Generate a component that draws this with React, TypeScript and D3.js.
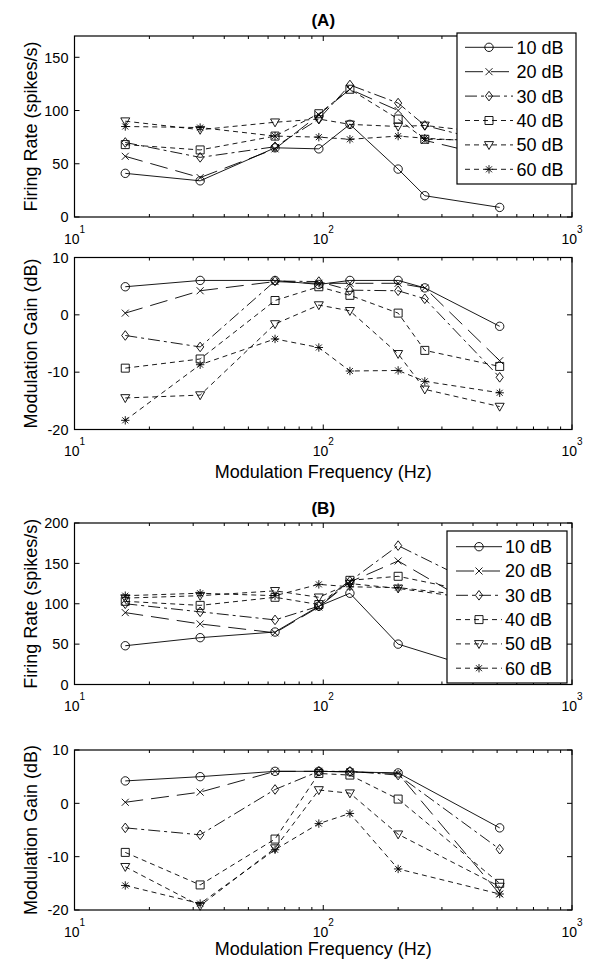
import React from "react";
import * as d3 from "d3";

// modulation frequencies (Hz)
const freqA = [16, 32, 64, 96, 128, 200, 256, 512];
const freqB = [16, 32, 64, 96, 128, 200, 512];
const levels = ["10 dB", "20 dB", "30 dB", "40 dB", "50 dB", "60 dB"];

// (A) firing rate, spikes/s, one row per level
const rateA = [
  [41, 34, 65, 64, 87, 45, 20, 9],
  [57, 37, 64, 96, 120, 100, 72, 55],
  [70, 56, 66, 92, 124, 107, 86, 68],
  [68, 63, 76, 97, 120, 92, 73, 72],
  [90, 82, 89, 92, 87, 85, 86, 78],
  [85, 84, 76, 75, 73, 76, 74, 70],
];
// (A) modulation gain, dB
const gainA = [
  [4.9, 6.0, 6.0, 5.3, 6.0, 6.0, 4.7, -2.0],
  [0.3, 4.2, 5.8, 5.5, 5.5, 5.5, 4.7, -8.0],
  [-3.6, -5.6, 5.9, 5.8, 4.3, 4.2, 2.8, -10.9],
  [-9.3, -7.7, 2.5, 4.9, 3.4, 0.3, -6.2, -9.0],
  [-14.5, -14.0, -1.6, 1.7, 0.7, -6.8, -13.0, -16.0],
  [-18.4, -8.7, -4.2, -5.7, -9.8, -9.7, -11.6, -13.6],
];
// (B) firing rate
const rateB = [
  [48, 58, 65, 97, 113, 50, 11],
  [89, 75, 64, 96, 127, 153, 80],
  [100, 90, 80, 97, 128, 172, 110],
  [103, 98, 108, 99, 129, 134, 108],
  [107, 110, 116, 108, 125, 119, 102],
  [110, 113, 110, 124, 121, 120, 106],
];
// (B) modulation gain
const gainB = [
  [4.2, 5.0, 6.0, 6.0, 5.9, 5.7, -4.6],
  [0.2, 2.1, 6.0, 6.0, 5.9, 5.6, -17.0],
  [-4.6, -5.9, 2.6, 6.0, 6.0, 5.3, -8.6],
  [-9.2, -15.3, -6.7, 5.6, 5.3, 0.8, -15.0],
  [-11.9, -19.2, -8.4, 2.5, 1.9, -5.8, -15.6],
  [-15.4, -18.8, -8.7, -3.8, -1.9, -12.3, -17.0],
];

const rateTicksA = [0, 50, 100, 150];
const rateTicksB = [0, 50, 100, 150, 200];
const gainTicks = [-20, -10, 0, 10];

// styles per level
const markers = ["circle", "x", "diamond", "square", "triangle", "star"];
const dashes = [undefined, "18,8", "12,4,3,4", "5,4", "5,4", "5,4"];

const font = "'Liberation Sans', Arial, Helvetica, sans-serif";
const plotLeft = 74.5;
const plotRight = 572;

const markerPath = (kind: string) => {
  switch (kind) {
    case "circle":
      return "M4.2,0A4.2,4.2 0 1,1 -4.2,0A4.2,4.2 0 1,1 4.2,0Z";
    case "x":
      return "M-3.5,-3.5L3.5,3.5M-3.5,3.5L3.5,-3.5";
    case "diamond":
      return "M0,-4.8L3.6,0L0,4.8L-3.6,0Z";
    case "square":
      return "M-4,-4H4V4H-4Z";
    case "triangle":
      return "M-4.5,-3.3H4.5L0,4.6Z";
    default:
      return "M0,-4.2V4.2M-4.2,0H4.2M-3,-3L3,3M-3,3L3,-3";
  }
};

const Marker = ({ kind, cx, cy }: { kind: string; cx: number; cy: number }) => (
  <path d={markerPath(kind)} transform={`translate(${cx},${cy})`} fill="none" stroke="#000" strokeWidth={0.9} />
);

type LegendProps = { x: number; y: number; w: number; h: number; row0: number; step: number; l0: number; l1: number; tx: number };

const Legend = ({ x, y, w, h, row0, step, l0, l1, tx }: LegendProps) => (
  <g>
    <rect x={x} y={y} width={w} height={h} fill="#fff" stroke="#000" strokeWidth={1.2} />
    {levels.map((lab, i) => {
      const yy = row0 + i * step;
      return (
        <g key={lab}>
          <line x1={l0} x2={l1} y1={yy} y2={yy} stroke="#000" strokeWidth={0.9} strokeDasharray={dashes[i]} />
          <Marker kind={markers[i]} cx={(l0 + l1) / 2} cy={yy} />
          <text x={tx} y={yy} dy="0.36em" fontSize={18} fontFamily={font}>{lab}</text>
        </g>
      );
    })}
  </g>
);

type PanelProps = {
  top: number;
  bottom: number;
  freqs: number[];
  series: number[][];
  yDomain: [number, number];
  yTicks: number[];
  yLabel: string;
  xLabelY?: number;
  title?: string;
  titleY?: number;
  legend?: LegendProps;
};

const Panel = ({ top, bottom, freqs, series, yDomain, yTicks, yLabel, xLabelY, title, titleY, legend }: PanelProps) => {
  const x = d3.scaleLog().domain([10, 1000]).range([plotLeft, plotRight]);
  const y = d3.scaleLinear().domain(yDomain).range([bottom, top]);
  const line = d3
    .line<number>()
    .x((_, i) => x(freqs[i]))
    .y((d) => y(d));
  const xTicks = x.ticks();
  const isMajor = (t: number) => Math.abs(Math.log10(t) - Math.round(Math.log10(t))) < 1e-9;

  return (
    <g>
      {title && (
        <text x={(plotLeft + plotRight) / 2} y={titleY} textAnchor="middle" fontSize={17} fontWeight="bold" fontFamily={font}>
          {title}
        </text>
      )}
      {series.map((vals, i) => (
        <g key={i}>
          <path d={line(vals) || ""} fill="none" stroke="#000" strokeWidth={0.9} strokeDasharray={dashes[i]} />
          {vals.map((v, j) => (
            <Marker key={j} kind={markers[i]} cx={x(freqs[j])} cy={y(v)} />
          ))}
        </g>
      ))}
      <rect x={plotLeft} y={top} width={plotRight - plotLeft} height={bottom - top} fill="none" stroke="#000" strokeWidth={1.2} />
      {xTicks.map((t) => {
        const len = isMajor(t) ? 5 : 3;
        return (
          <g key={t}>
            <line x1={x(t)} x2={x(t)} y1={bottom} y2={bottom - len} stroke="#000" />
            <line x1={x(t)} x2={x(t)} y1={top} y2={top + len} stroke="#000" />
          </g>
        );
      })}
      {xTicks.filter(isMajor).map((t) => (
        <text key={t} x={x(t)} y={bottom + 26.5} textAnchor="middle" fontSize={14} fontFamily={font}>
          10
          <tspan fontSize={10} dy={-11}>{Math.round(Math.log10(t))}</tspan>
        </text>
      ))}
      {yTicks.map((t) => (
        <g key={t}>
          <line x1={plotLeft} x2={plotLeft + 5} y1={y(t)} y2={y(t)} stroke="#000" />
          <line x1={plotRight} x2={plotRight - 5} y1={y(t)} y2={y(t)} stroke="#000" />
          <text x={plotLeft - 6} y={y(t)} dy="0.36em" textAnchor="end" fontSize={14.5} fontFamily={font}>
            {t}
          </text>
        </g>
      ))}
      <text transform={`translate(37,${(top + bottom) / 2}) rotate(-90)`} textAnchor="middle" fontSize={18} fontFamily={font}>
        {yLabel}
      </text>
      {xLabelY && (
        <text x={(plotLeft + plotRight) / 2} y={xLabelY} textAnchor="middle" fontSize={18} fontFamily={font}>
          Modulation Frequency (Hz)
        </text>
      )}
      {legend && <Legend {...legend} />}
    </g>
  );
};

const App = () => (
  <svg width={595} height={964} style={{ position: "absolute", left: 0, top: 0, background: "#fff" }}>
    <rect width={595} height={964} fill="#fff" />
    <Panel
      top={36}
      bottom={217}
      freqs={freqA}
      series={rateA}
      yDomain={[0, 170]}
      yTicks={rateTicksA}
      yLabel="Firing Rate (spikes/s)"
      title="(A)"
      titleY={26}
      legend={{ x: 457, y: 33, w: 119, h: 151, row0: 47.3, step: 24.4, l0: 465, l1: 513, tx: 516.5 }}
    />
    <Panel
      top={257.5}
      bottom={429.5}
      freqs={freqA}
      series={gainA}
      yDomain={[-20, 10]}
      yTicks={gainTicks}
      yLabel="Modulation Gain (dB)"
      xLabelY={478}
    />
    <Panel
      top={523}
      bottom={684.5}
      freqs={freqB}
      series={rateB}
      yDomain={[0, 200]}
      yTicks={rateTicksB}
      yLabel="Firing Rate (spikes/s)"
      title="(B)"
      titleY={514}
      legend={{ x: 447, y: 531, w: 120, h: 152, row0: 546.7, step: 24.3, l0: 456, l1: 502, tx: 505 }}
    />
    <Panel
      top={750}
      bottom={910}
      freqs={freqB}
      series={gainB}
      yDomain={[-20, 10]}
      yTicks={gainTicks}
      yLabel="Modulation Gain (dB)"
      xLabelY={955}
    />
  </svg>
);

export default App;
